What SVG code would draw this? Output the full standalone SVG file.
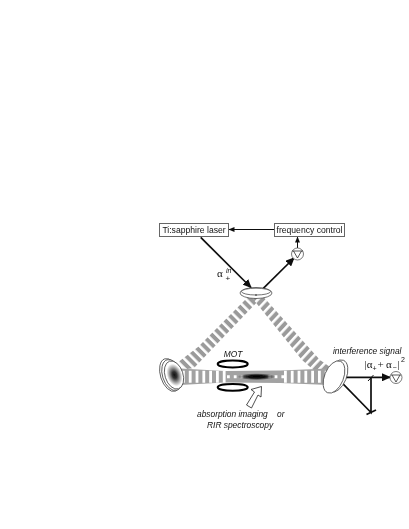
<svg xmlns="http://www.w3.org/2000/svg" width="409" height="529" viewBox="0 0 409 529">
<style>
text{font-family:"Liberation Sans",Arial,sans-serif;fill:#111}
.box{fill:#fff;stroke:#666;stroke-width:1}
.lbl{font-size:8.6px}
.it{font-size:8.4px;font-style:italic}
.gk{font-family:"Liberation Serif","Times New Roman",serif;font-size:11px}
.thin{fill:none;stroke:#111;stroke-width:1}
.thick{fill:none;stroke:#111;stroke-width:1.7}
.ring{fill:none;stroke:#000;stroke-width:2}
.m{fill:#fff;stroke:#333;stroke-width:.7}
.volt{fill:#fff;stroke:#444;stroke-width:.7}
</style>
<defs>
<filter id="soft" x="-5%" y="-5%" width="110%" height="110%"><feGaussianBlur stdDeviation="0.35"/></filter>
<filter id="soft2" x="-5%" y="-5%" width="110%" height="110%"><feGaussianBlur stdDeviation="0.45"/></filter>
<marker id="ah" markerUnits="userSpaceOnUse" markerWidth="9" markerHeight="8" refX="8" refY="4" orient="auto"><path d="M0 0L9 4L0 8Z" fill="#111"/></marker>
<marker id="as" markerUnits="userSpaceOnUse" markerWidth="6" markerHeight="6" refX="5.5" refY="3" orient="auto"><path d="M0 0.5L6 3L0 5.5Z" fill="#111"/></marker>
<pattern id="sl" width="6.6" height="7" patternUnits="userSpaceOnUse" patternTransform="translate(1 0) rotate(-45)"><rect width="6.6" height="7" fill="#9a9a9a"/><rect x="0" width="2.6" height="7" fill="#fff"/></pattern>
<pattern id="sr" width="6.6" height="7" patternUnits="userSpaceOnUse" patternTransform="translate(3 0) rotate(43)"><rect width="6.6" height="7" fill="#9a9a9a"/><rect x="0" width="2.6" height="7" fill="#fff"/></pattern>
<radialGradient id="spot"><stop offset="0" stop-color="#000"/><stop offset=".45" stop-color="#111"/><stop offset="1" stop-color="#000" stop-opacity="0"/></radialGradient>
<radialGradient id="mg"><stop offset="0" stop-color="#111"/><stop offset=".3" stop-color="#333"/><stop offset=".7" stop-color="#aaa"/><stop offset="1" stop-color="#fff"/></radialGradient>
</defs>

<g filter="url(#soft)">
<g id="beams">
<g filter="url(#soft2)">
<polygon points="253,292 260,299 194,368 187,369 177,363 198,347" fill="url(#sl)"/>
<polygon points="253,299 260,293 320,360 330,367 323,378 302,360" fill="url(#sr)"/>
<polygon points="180,368.5 225,371 280,370.5 329,368.5 329,385 280,383 225,382.5 180,385" fill="#a2a2a2"/>
<line x1="182" y1="376.8" x2="227" y2="376.8" stroke="#fff" stroke-width="12" stroke-dasharray="2.8 4"/>
<line x1="284" y1="376.8" x2="326" y2="376.8" stroke="#fff" stroke-width="12" stroke-dasharray="2.8 4"/>
<line x1="227" y1="376.8" x2="284" y2="376.8" stroke="#fff" stroke-width="3" stroke-dasharray="2.8 4"/>
</g>
</g>

<g id="atoms"><ellipse cx="256.5" cy="376.7" rx="19" ry="3.4" fill="url(#spot)"/></g>

<g id="connectors">
<line class="thin" x1="274" y1="229.5" x2="229" y2="229.5" marker-end="url(#as)"/>
<line class="thin" x1="297.5" y1="248" x2="297.5" y2="237" marker-end="url(#as)"/>
<line class="thick" x1="200.7" y1="237.3" x2="251" y2="287.5" marker-end="url(#ah)"/>
<line class="thick" x1="263.3" y1="288.3" x2="294" y2="258" marker-end="url(#ah)"/>
<line class="thick" x1="336.7" y1="377.3" x2="390" y2="377.3" marker-end="url(#ah)"/>
<polyline class="thick" points="336.7,377.3 371,412.5 371,377.3"/>
<line class="thick" x1="366.5" y1="414.5" x2="376" y2="410"/>
<line class="thin" x1="368" y1="381" x2="373.5" y2="375"/>
</g>

<g id="laser"><rect class="box" x="159.5" y="223.5" width="69" height="13"/><text class="lbl" x="194" y="233" text-anchor="middle">Ti:sapphire laser</text></g>
<g id="freq"><rect class="box" x="274.5" y="223.5" width="70" height="13"/><text class="lbl" x="309.5" y="233" text-anchor="middle">frequency control</text></g>
<g id="volt1"><circle class="volt" cx="297.5" cy="254" r="6"/><path class="thin" style="stroke-width:.7" d="M293.5 251L297.5 258L301.5 251M292 251H303"/></g>
<g id="volt2"><circle class="volt" cx="396" cy="377.5" r="6"/><path class="thin" style="stroke-width:.7" d="M392 375L396 382L400 375M391 375H401"/></g>

<g id="input-mirror"><ellipse class="m" cx="256" cy="293" rx="16" ry="5.5"/><ellipse class="m" cx="256" cy="291.6" rx="14.5" ry="3.4"/><circle cx="256" cy="295" r=".8" fill="#222"/></g>
<g id="left-mirror"><ellipse class="m" cx="170" cy="375" rx="9.5" ry="17" transform="rotate(-18 170 375)"/><ellipse class="m" cx="172" cy="375" rx="9.5" ry="16" transform="rotate(-18 172 375)"/><ellipse class="m" cx="174" cy="375" rx="9" ry="14.5" transform="rotate(-18 174 375)"/><ellipse cx="174.5" cy="375" rx="7.5" ry="11.5" fill="url(#mg)" transform="rotate(-18 174.5 375)"/></g>
<g id="right-mirror"><ellipse class="m" cx="337" cy="376" rx="9.5" ry="17" transform="rotate(22 337 376)"/><ellipse class="m" cx="334" cy="377" rx="9.5" ry="17" transform="rotate(22 334 377)"/></g>

<g id="mot"><ellipse class="ring" cx="232.7" cy="364" rx="15" ry="3.4"/><ellipse class="ring" cx="232.7" cy="387.3" rx="15" ry="3.4"/><text class="it" x="233" y="356.5" text-anchor="middle">MOT</text></g>
<g id="imaging-arrow"><polygon points="261.5,386.5 251,389.5 254.5,392 246.5,405 251.5,408 258,395 261,397" fill="#fff" stroke="#222" stroke-width=".8"/></g>

<g id="labels">
<text class="it" x="197" y="417">absorption imaging</text>
<text class="it" x="277" y="417">or</text>
<text class="it" x="207" y="427.5">RIR spectroscopy</text>
<text class="it" x="333" y="353.5">interference signal</text>
<text class="gk" x="217" y="277">α</text>
<text class="it" style="font-size:7px" x="226" y="273">in</text>
<text style="font-size:8px" x="225.5" y="281">+</text>
<text class="gk" x="364.5" y="368">|α</text>
<text style="font-size:7px" x="372.5" y="370.5">+</text>
<text class="gk" x="377.5" y="368">+</text>
<text class="gk" x="386" y="368">α</text>
<text style="font-size:7px" x="392.5" y="370">−</text>
<text class="gk" x="397.5" y="368">|</text>
<text style="font-size:7px" x="401" y="362">2</text>
</g>
</g>
</svg>
